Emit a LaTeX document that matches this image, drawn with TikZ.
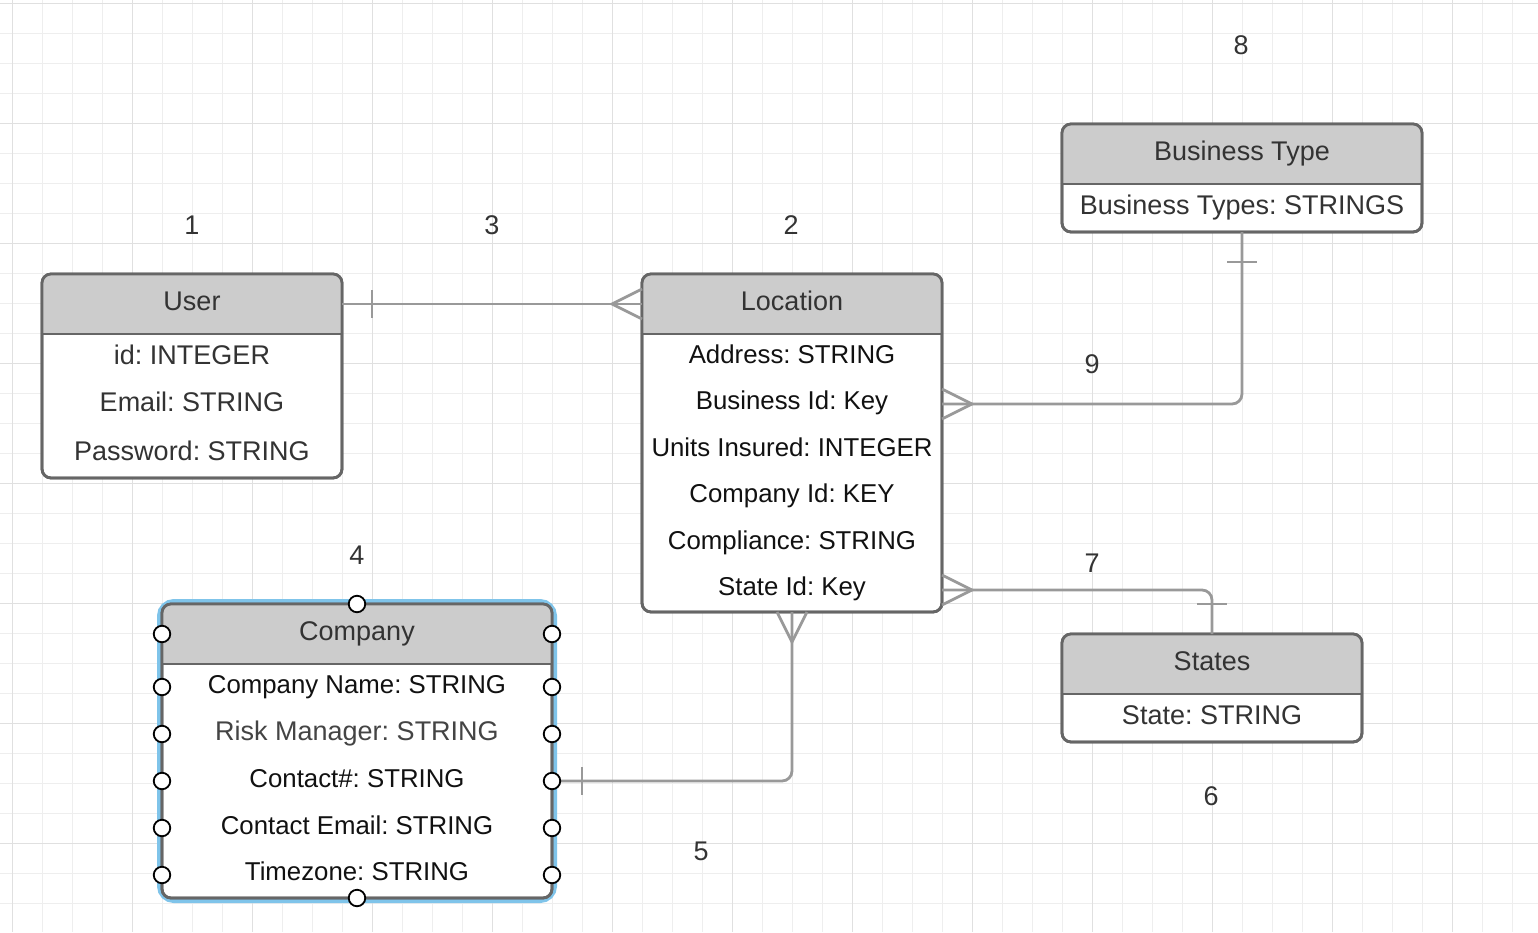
\documentclass[tikz,border=0pt]{standalone}
\usepackage{fontspec}
\setmainfont{Liberation Sans}
\usetikzlibrary{calc}
\definecolor{gridminor}{HTML}{EEEEEE}
\definecolor{gridmajor}{HTML}{E0E0E0}
\definecolor{hdr}{HTML}{CCCCCC}
\definecolor{bord}{HTML}{666666}
\definecolor{conncol}{HTML}{999999}
\definecolor{txt}{HTML}{333333}
\definecolor{txtb}{HTML}{111111}
\definecolor{txtr}{HTML}{444444}
\definecolor{selblue}{HTML}{7FC4EA}
\tikzset{
  tbl/.style={draw=bord, line width=2.8pt, fill=white, rounded corners=9pt, inner sep=0pt, outer sep=0pt},
  bordline/.style={draw=bord, line width=2.8pt},
  conn/.style={draw=conncol, line width=2.8pt},
  lbl/.style={anchor=base, inner sep=0pt, font=\fontsize{27}{32}\selectfont\frenchspacing, text=txt},
  lblb/.style={lbl, font=\fontsize{25.8}{30}\selectfont\frenchspacing, text=txtb},
  handle/.style={circle, draw=black, fill=white, line width=1.8pt, minimum size=16.5pt, inner sep=0pt},
}
\newcommand\ertbl[4]{%
  \node[tbl, minimum width=#3pt, minimum height=#4pt] (#1) at #2 {};
  \begin{scope}
    \clip[rounded corners=9pt] (#1.south west) rectangle (#1.north east);
    \fill[hdr] (#1.north west) rectangle ($(#1.north east)+(0,60)$);
  \end{scope}
  \draw[bordline] ($(#1.north west)+(0,60)$) -- ($(#1.north east)+(0,60)$);
  \draw[bordline, rounded corners=9pt] (#1.south west) rectangle (#1.north east);
}
\begin{document}
\begin{tikzpicture}[x=1pt, y=-1pt]
\useasboundingbox (0,0) rectangle (1538,932);
\fill[white] (0,0) rectangle (1538,932);
% grid
\foreach \x in {12,42,...,1540} \draw[gridminor, line width=1pt] (\x,0) -- (\x,932);
\foreach \y in {3,33,...,932} \draw[gridminor, line width=1pt] (0,\y) -- (1538,\y);
\foreach \x in {12,132,...,1540} \draw[gridmajor, line width=1pt] (\x,0) -- (\x,932);
\foreach \y in {3,123,...,932} \draw[gridmajor, line width=1pt] (0,\y) -- (1538,\y);

% selection outline of Company
\draw[selblue, line width=10pt, rounded corners=12pt] (162,604) rectangle (552,898);

% tables
\ertbl{user}{(192,376)}{300}{204}
\ertbl{loc}{(792,443)}{300}{338}
\ertbl{bt}{(1242,178)}{360}{108}
\ertbl{st}{(1212,688)}{300}{108}
\ertbl{comp}{(357,751)}{390}{294}

% User texts
\node[lbl] (userh) at (192,310) {User};
\node[lbl] (user1) at (192,364) {id: INTEGER};
\node[lbl] (user2) at (192,411) {Email: STRING};
\node[lbl] (user3) at (192,460) {Password: STRING};
% Location texts
\node[lbl] (loch) at (792,310) {Location};
\node[lblb] (loc1) at (792,363) {Address: STRING};
\node[lblb] (loc2) at (792,409) {Business Id: Key};
\node[lblb] (loc3) at (792,456) {Units Insured: INTEGER};
\node[lblb] (loc4) at (792,502) {Company Id: KEY};
\node[lblb] (loc5) at (792,549) {Compliance: STRING};
\node[lblb] (loc6) at (792,595) {State Id: Key};
% Business Type
\node[lbl] (bth) at (1242,160) {Business Type};
\node[lbl] (bt1) at (1242,214) {Business Types: STRINGS};
% States
\node[lbl] (sth) at (1212,670) {States};
\node[lbl] (st1) at (1212,724) {State: STRING};
% Company
\node[lbl] (comph) at (357,640) {Company};
\node[lblb] (comp1) at (357,693) {Company Name: STRING};
\node[lbl, text=txtr] (comp2) at (357,740) {Risk Manager: STRING};
\node[lblb] (comp3) at (357,787) {Contact\#: STRING};
\node[lblb] (comp4) at (357,834) {Contact Email: STRING};
\node[lblb] (comp5) at (357,880) {Timezone: STRING};

% number labels
\node[lbl] (n1) at (192,234) {1};
\node[lbl] (n3) at (492,234) {3};
\node[lbl] (n2) at (791,234) {2};
\node[lbl] (n8) at (1241,54) {8};
\node[lbl] (n9) at (1092,373) {9};
\node[lbl] (n7) at (1092,572) {7};
\node[lbl] (n4) at (357,564) {4};
\node[lbl] (n6) at (1211,805) {6};
\node[lbl] (n5) at (701,860) {5};

% connector User - Location
\coordinate (ua) at ($(user.north east)+(0,30)$);
\coordinate (la) at ($(loc.north west)+(0,30)$);
\draw[conn] (ua) -- (la);
\draw[conn] ($(ua)+(30,-14)$) -- ($(ua)+(30,14)$);
\draw[conn] ($(la)+(0,-15)$) -- ($(la)+(-30,0)$) -- ($(la)+(0,15)$);

% connector Location - Business Type
\coordinate (lb) at ($(loc.north east)+(0,130)$);
\draw[conn, rounded corners=10pt] (lb) -| (bt.south);
\draw[conn] ($(bt.south)+(-15,30)$) -- ($(bt.south)+(15,30)$);
\draw[conn] ($(lb)+(0,-15)$) -- ($(lb)+(30,0)$) -- ($(lb)+(0,15)$);

% connector Location - States
\coordinate (ls) at ($(loc.south east)+(0,-22)$);
\draw[conn, rounded corners=10pt] (ls) -| (st.north);
\draw[conn] ($(st.north)+(-15,-30)$) -- ($(st.north)+(15,-30)$);
\draw[conn] ($(ls)+(0,-15)$) -- ($(ls)+(30,0)$) -- ($(ls)+(0,15)$);

% connector Company - Location
\coordinate (cl) at ($(comp.north east)+(0,177)$);
\draw[conn, rounded corners=10pt] (cl) -| (loc.south);
\draw[conn] ($(cl)+(30,-14)$) -- ($(cl)+(30,14)$);
\draw[conn] ($(loc.south)+(-15,0)$) -- ($(loc.south)+(0,30)$) -- ($(loc.south)+(15,0)$);

% selection handles
\node[handle] (ht) at (comp.north) {};
\node[handle] (hb) at (comp.south) {};
\foreach \i/\y in {1/634,2/687,3/734,4/781,5/828,6/875} {
  \node[handle] (hl\i) at (162,\y) {};
  \node[handle] (hr\i) at (552,\y) {};
}
\end{tikzpicture}
\end{document}
